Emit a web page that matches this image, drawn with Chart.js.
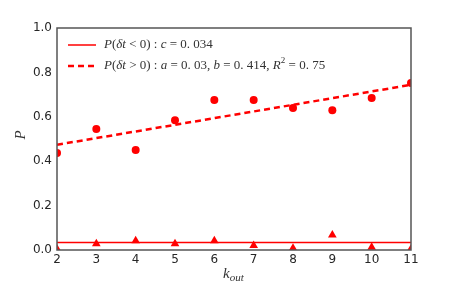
<!DOCTYPE html>
<html>
<head>
<meta charset="utf-8">
<script src="https://cdn.jsdelivr.net/npm/chart.js@4/dist/chart.umd.min.js"></script>
<style>
  html, body { margin: 0; padding: 0; background: #fff; }
  #wrap { width: 457px; height: 286px; }
</style>
</head>
<body>
<div id="wrap"><canvas id="chart" width="457" height="286"></canvas></div>
<script>
// values
var kOut = [2, 3, 4, 5, 6, 7, 8, 9, 10, 11];
var pPositive = [0.437, 0.545, 0.45, 0.585, 0.676, 0.676, 0.64, 0.63, 0.685, 0.752];
var pNegative = [0.005, 0.028, 0.042, 0.028, 0.042, 0.02, 0.008, 0.068, 0.012, 0.005];
var fitX = [2, 11];
var fitY = [0.474, 0.744];
var constX = [2, 11];
var constY = [0.034, 0.034];
var yTicks = [0, 0.2, 0.4, 0.6, 0.8, 1.0];

var RED = '#ff0000';
var FRAME = '#555555';

function pts(xs, ys) {
    return xs.map(function(x, i) { return { x: x, y: ys[i] }; });
}

// draw a run of text pieces [text, font, dy] left to right
function drawRuns(ctx, x, y, runs) {
    runs.forEach(function(r) {
        ctx.font = r[1];
        ctx.fillText(r[0], x, y + (r[2] || 0));
        x += ctx.measureText(r[0]).width;
    });
}

var IT = 'italic 13px "Liberation Serif"';
var RM = '13px "Liberation Serif"';
var SM = '9px "Liberation Serif"';

var decorPlugin = {
    id: 'decor',
    afterDatasetsDraw: function(chart) {
        var ctx = chart.ctx;
        var a = chart.chartArea;
        ctx.save();
        // frame
        ctx.strokeStyle = FRAME;
        ctx.lineWidth = 1.5;
        ctx.strokeRect(a.left, a.top, a.right - a.left, a.bottom - a.top);

        // legend
        var lx = a.left + 11;
        ctx.strokeStyle = RED;
        ctx.lineWidth = 1.5;
        ctx.beginPath();
        ctx.moveTo(lx, 45); ctx.lineTo(lx + 28, 45);
        ctx.stroke();
        ctx.lineWidth = 2.5;
        ctx.setLineDash([6, 4]);
        ctx.beginPath();
        ctx.moveTo(lx, 66); ctx.lineTo(lx + 28, 66);
        ctx.stroke();
        ctx.setLineDash([]);

        ctx.fillStyle = '#333';
        ctx.textBaseline = 'middle';
        ctx.textAlign = 'left';
        drawRuns(ctx, lx + 36, 45, [
            ['P', IT], ['(', RM], ['δt', IT], [' < 0) : ', RM], ['c', IT], [' = 0. 034', RM]
        ]);
        drawRuns(ctx, lx + 36, 66, [
            ['P', IT], ['(', RM], ['δt', IT], [' > 0) : ', RM], ['a', IT], [' = 0. 03, ', RM],
            ['b', IT], [' = 0. 414, ', RM], ['R', IT], ['2', SM, -5], [' = 0. 75', RM]
        ]);

        // axis titles
        ctx.textAlign = 'left';
        drawRuns(ctx, 223, 274, [['k', 'italic 15px "Liberation Serif"'], ['out', 'italic 11px "Liberation Serif"', 4]]);
        ctx.translate(21, 135);
        ctx.rotate(-Math.PI / 2);
        ctx.textAlign = 'center';
        ctx.font = 'italic 15px "Liberation Serif"';
        ctx.fillText('P', 0, 0);
        ctx.restore();
    }
};

new Chart(document.getElementById('chart'), {
    type: 'scatter',
    data: {
        datasets: [
            {
                label: 'const',
                type: 'line',
                data: pts(constX, constY),
                borderColor: RED,
                borderWidth: 1.5,
                pointRadius: 0,
                order: 3
            },
            {
                label: 'fit',
                type: 'line',
                data: pts(fitX, fitY),
                borderColor: RED,
                borderWidth: 2.5,
                borderDash: [6, 4],
                pointRadius: 0,
                order: 2
            },
            {
                label: 'P(dt>0)',
                data: pts(kOut, pPositive),
                backgroundColor: RED,
                borderColor: RED,
                pointRadius: 4,
                borderWidth: 0,
                order: 1
            },
            {
                label: 'P(dt<0)',
                data: pts(kOut, pNegative),
                pointStyle: 'triangle',
                backgroundColor: RED,
                borderColor: RED,
                pointRadius: 5,
                borderWidth: 0,
                order: 1
            }
        ]
    },
    options: {
        responsive: false,
        animation: false,
        events: [],
        layout: { padding: { left: 0, right: 46, top: 28, bottom: 0 } },
        plugins: { legend: { display: false }, tooltip: { enabled: false } },
        scales: {
            x: {
                type: 'linear',
                min: 2,
                max: 11,
                afterFit: function(s) { s.height = 36; },
                afterBuildTicks: function(s) { s.ticks = kOut.map(function(v) { return { value: v }; }); },
                grid: { display: false, drawTicks: false },
                border: { display: false },
                ticks: { color: '#262626', padding: 3, font: { family: 'DejaVu Sans', size: 12 } }
            },
            y: {
                min: 0,
                max: 1,
                afterFit: function(s) { s.width = 57; },
                afterBuildTicks: function(s) { s.ticks = yTicks.map(function(v) { return { value: v }; }); },
                grid: { display: false, drawTicks: false },
                border: { display: false },
                ticks: {
                    color: '#262626',
                    padding: 5,
                    font: { family: 'DejaVu Sans', size: 12 },
                    callback: function(v) { return v.toFixed(1); }
                }
            }
        }
    },
    plugins: [decorPlugin]
});
</script>
</body>
</html>
